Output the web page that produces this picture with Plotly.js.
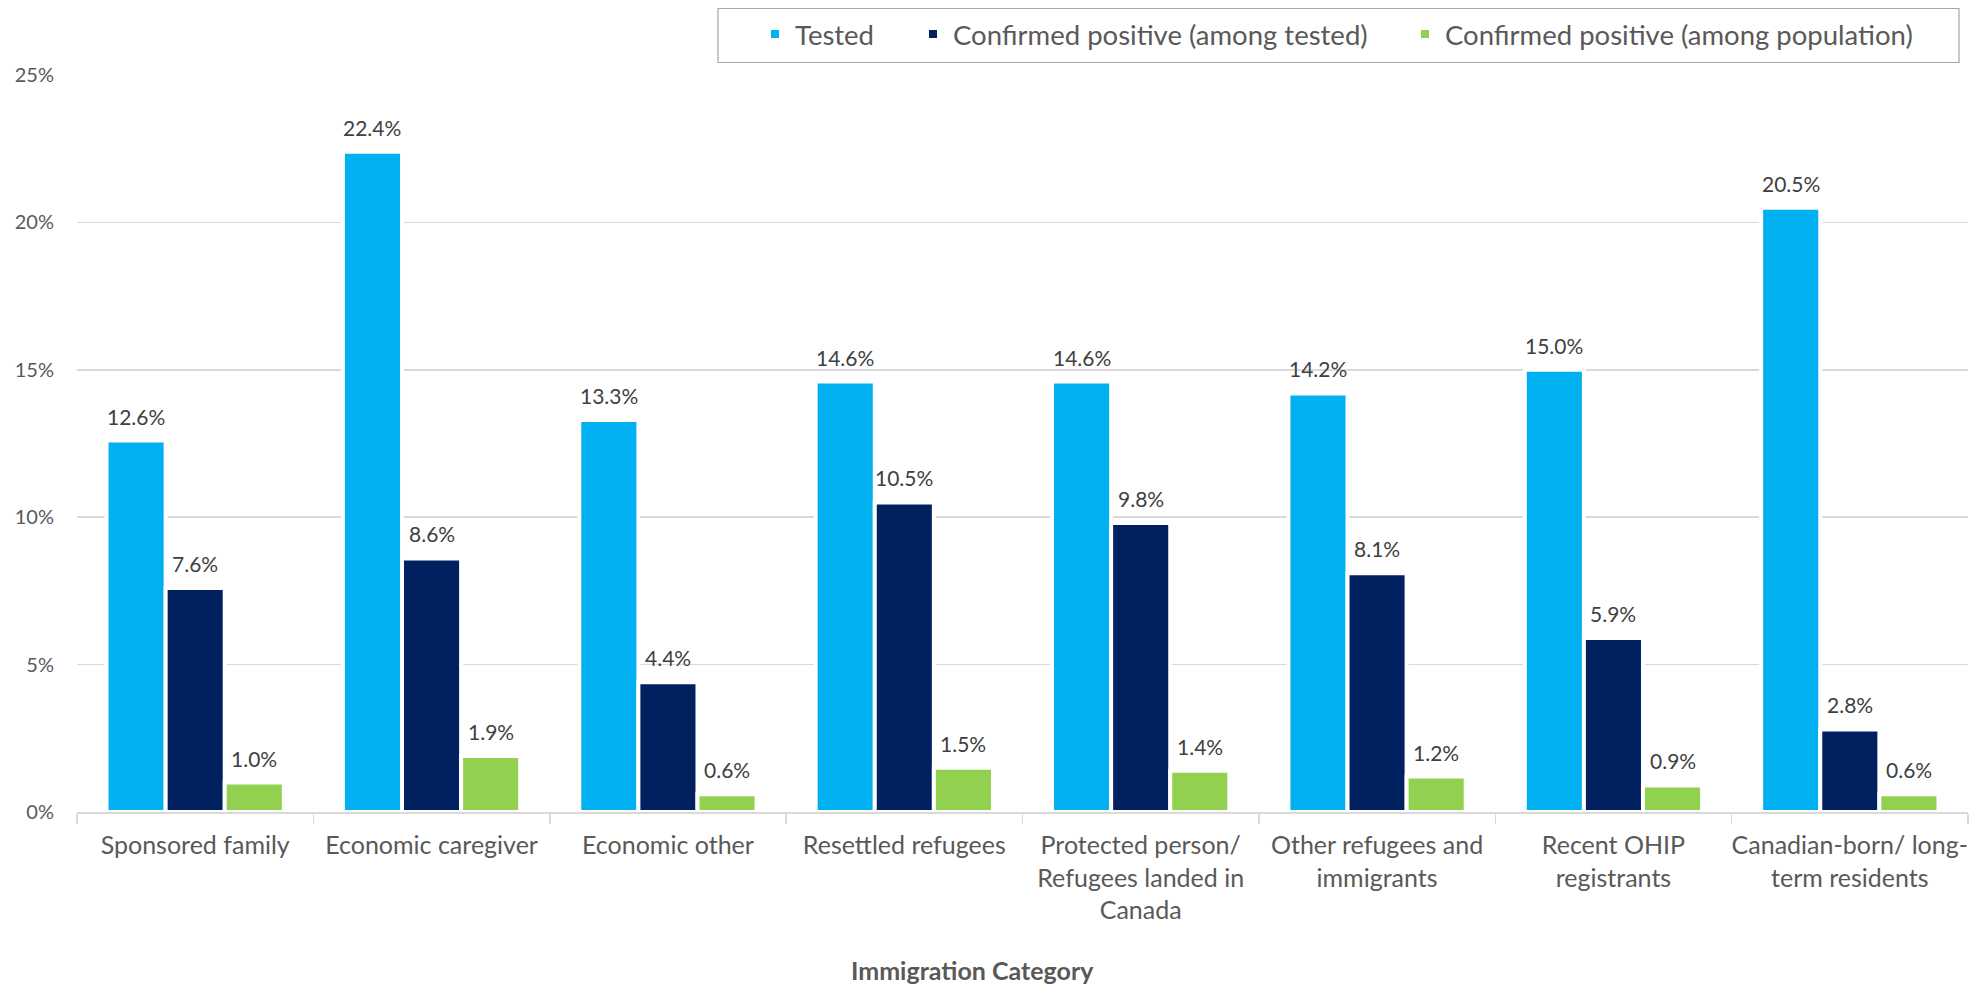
<!DOCTYPE html>
<html>
<head>
<meta charset="utf-8">
<script src="https://cdn.plot.ly/plotly-3.0.1.min.js"></script>
<style>
  html, body { margin: 0; padding: 0; background: #ffffff; }
  #chart { width: 1980px; height: 984px; }
</style>
</head>
<body>
<div id="chart"></div>
<script>
// ---- Data ----
const categories = [
  "Sponsored family",
  "Economic caregiver",
  "Economic other",
  "Resettled refugees",
  "Protected person/<br>Refugees landed in<br>Canada",
  "Other refugees and<br>immigrants",
  "Recent OHIP<br>registrants",
  "Canadian-born/ long-<br>term residents"
];
const seriesNames = [
  "Tested",
  "Confirmed positive (among tested)",
  "Confirmed positive (among population)"
];
const tested = [12.6, 22.4, 13.3, 14.6, 14.6, 14.2, 15.0, 20.5];
const positiveAmongTested = [7.6, 8.6, 4.4, 10.5, 9.8, 8.1, 5.9, 2.8];
const positiveAmongPopulation = [1.0, 1.9, 0.6, 1.5, 1.4, 1.2, 0.9, 0.6];
const yTickVals = [0, 5, 10, 15, 20, 25];
const yTickText = ["0%", "5%", "10%", "15%", "20%", "25%"];
const xAxisTitle = "Immigration Category";

// ---- Styling ----
const colors = ["#00B0F0", "#002060", "#92D050"];
const FONT = "Lato, 'Open Sans', sans-serif";
const W = 1980, H = 984;
const M = { l: 77, r: 12, t: 75, b: 172 };
const plotW = W - M.l - M.r;
const plotH = H - M.t - M.b;
const BARGAP = 0.25;
const slot = plotW / categories.length * (1 - BARGAP) / 3;

const seriesValues = [tested, positiveAmongTested, positiveAmongPopulation];
const legendIds = ["legend", "legend2", "legend3"];

const traces = seriesValues.map((vals, i) => ({
  type: "bar",
  name: seriesNames[i],
  x: categories,
  y: vals,
  legend: legendIds[i],
  marker: { color: colors[i], line: { color: "#ffffff", width: 4 } },
  hoverinfo: "x+y+name"
}));

// data labels
const annotations = [];
seriesValues.forEach((vals, s) => {
  vals.forEach((v, j) => {
    annotations.push({
      x: categories[j], y: v, xref: "x", yref: "y",
      text: v.toFixed(1) + "%",
      showarrow: false,
      xanchor: "center", yanchor: "bottom",
      xshift: (s - 1) * slot, yshift: 10,
      font: { family: FONT, size: 21, color: "#404040" }
    });
  });
});
annotations.push({
  text: "<b>" + xAxisTitle + "</b>",
  xref: "paper", yref: "paper",
  x: (972 - M.l) / plotW, y: (M.t + plotH - 970) / plotH,
  xanchor: "center", yanchor: "middle",
  showarrow: false,
  font: { family: FONT, size: 25, color: "#595959" }
});

const legendCommon = {
  orientation: "h",
  xref: "container", yref: "container",
  xanchor: "left", yanchor: "middle",
  y: 1 - 34 / H,
  bgcolor: "rgba(0,0,0,0)",
  borderwidth: 0,
  font: { family: FONT, size: 27.5, color: "#595959" }
};

const layout = {
  width: W, height: H,
  margin: M,
  paper_bgcolor: "#ffffff",
  plot_bgcolor: "#ffffff",
  barmode: "group",
  bargap: BARGAP,
  bargroupgap: 0,
  font: { family: FONT, color: "#595959" },
  xaxis: {
    type: "category",
    showline: true, linecolor: "#d9d9d9", linewidth: 2,
    ticks: "outside", tickson: "boundaries", ticklen: 10,
    tickcolor: "#d9d9d9", tickwidth: 1.5,
    tickangle: 0,
    ticklabelstandoff: 10,
    tickfont: { family: FONT, size: 25, color: "#595959" },
    showgrid: false, zeroline: false, fixedrange: true
  },
  yaxis: {
    range: [0, 25],
    tickvals: yTickVals, ticktext: yTickText,
    showgrid: true, gridcolor: "#d9d9d9", gridwidth: 1.5,
    zeroline: false, showline: false,
    ticks: "", ticklabelstandoff: 22,
    tickfont: { family: FONT, size: 20, color: "#595959" },
    fixedrange: true
  },
  showlegend: true,
  legend: Object.assign({}, legendCommon, { x: 755 / W }),
  legend2: Object.assign({}, legendCommon, { x: 913 / W }),
  legend3: Object.assign({}, legendCommon, { x: 1405 / W }),
  shapes: [{
    type: "rect", xref: "paper", yref: "paper",
    x0: (718 - M.l) / plotW, x1: (1959 - M.l) / plotW,
    y0: (M.t + plotH - 62.5) / plotH, y1: (M.t + plotH - 8.5) / plotH,
    line: { color: "#a6a6a6", width: 1.2 },
    fillcolor: "rgba(0,0,0,0)", layer: "above"
  }],
  annotations: annotations
};

Plotly.newPlot("chart", traces, layout, { displayModeBar: false, staticPlot: true });
</script>
</body>
</html>
